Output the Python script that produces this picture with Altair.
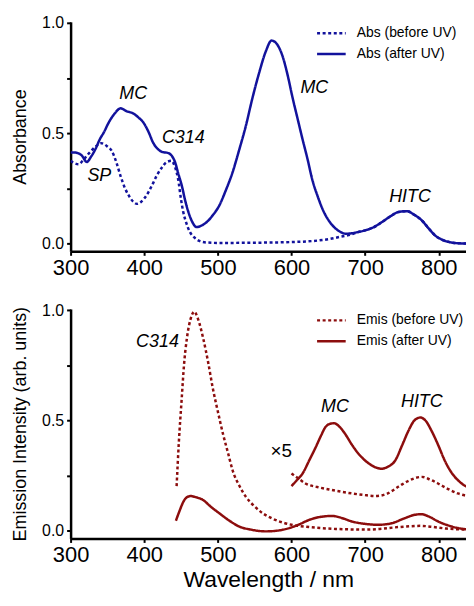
import altair as alt
import pandas as pd

BLUE = "#12129c"
RED = "#8c0d0d"
FONT = "Liberation Sans"

# ---------- Absorbance (top panel) ----------
abs_after_nm = [300, 305, 310, 315, 322, 328, 334, 340, 345, 352, 360, 368, 376, 385, 392, 399,
                406, 412, 418, 424, 433, 438, 442, 446, 451, 456, 460, 465, 471, 478, 485, 493,
                502, 511, 520, 529, 538, 547, 556, 565, 573, 580, 588, 595, 601, 608, 615, 622,
                628, 636, 644, 652, 660, 667, 673, 680, 690, 700, 712, 723, 735, 745, 757, 766,
                777, 786, 795, 805, 817, 830, 845]
abs_after_val = [0.413, 0.413, 0.41, 0.40, 0.37, 0.395, 0.43, 0.475, 0.503, 0.55, 0.59, 0.613,
                 0.60, 0.59, 0.572, 0.548, 0.505, 0.458, 0.43, 0.416, 0.41, 0.395, 0.368, 0.32,
                 0.263, 0.19, 0.143, 0.10, 0.075, 0.082, 0.098, 0.128, 0.173, 0.243, 0.323, 0.425,
                 0.533, 0.66, 0.773, 0.87, 0.92, 0.905, 0.848, 0.76, 0.668, 0.57, 0.473, 0.38,
                 0.293, 0.21, 0.143, 0.098, 0.068, 0.052, 0.045, 0.046, 0.052, 0.06, 0.075, 0.098,
                 0.125, 0.143, 0.147, 0.132, 0.105, 0.07, 0.037, 0.017, 0.005, 0.001, 0.0]

abs_before_nm = [300, 305, 311, 317, 322, 328, 334, 342, 350, 356, 362, 368, 374, 379, 385, 390,
                 396, 403, 410, 417, 424, 430, 437, 442, 446, 450, 453, 457, 462, 468, 475, 485,
                 500, 550, 600, 630, 650, 665, 680, 690, 700, 712, 723, 735, 745, 757, 766, 777,
                 786, 795, 805, 817, 830, 845]
abs_before_val = [0.375, 0.365, 0.36, 0.378, 0.398, 0.42, 0.44, 0.455, 0.44, 0.42, 0.37, 0.305,
                  0.25, 0.218, 0.19, 0.18, 0.19, 0.218, 0.26, 0.308, 0.345, 0.368, 0.375, 0.345,
                  0.293, 0.2, 0.143, 0.095, 0.053, 0.028, 0.012, 0.005, 0.003, 0.004, 0.007, 0.012,
                  0.02, 0.03, 0.04, 0.052, 0.06, 0.075, 0.098, 0.125, 0.143, 0.147, 0.132, 0.105,
                  0.07, 0.037, 0.017, 0.005, 0.001, 0.0]

abs_labels = ["MC", "SP", "C314", "MC", "HITC"]
abs_label_nm = [385, 339, 453, 631, 761]
abs_label_y = [0.676, 0.306, 0.477, 0.707, 0.212]

# ---------- Emission (bottom panel) ----------
emis_before_nm = [444, 447, 451, 454, 458, 463, 468, 473, 480, 487, 493, 500, 507, 514, 520, 529,
                  538, 550, 561, 574, 588, 600, 620, 640, 660, 680, 700, 720, 740, 760, 776, 790,
                  810, 830, 845]
emis_before_val = [0.202, 0.40, 0.603, 0.75, 0.873, 0.96, 0.993, 0.96, 0.873, 0.76, 0.648, 0.54,
                   0.438, 0.35, 0.274, 0.205, 0.154, 0.11, 0.079, 0.055, 0.037, 0.027, 0.018,
                   0.012, 0.008, 0.006, 0.005, 0.008, 0.015, 0.02, 0.022, 0.018, 0.01, 0.006, 0.005]

emis_after_nm = [443, 448, 453, 458, 463, 470, 480, 490, 502, 515, 529, 545, 565, 580, 597, 610,
                 624, 640, 655, 668, 682, 700, 718, 735, 754, 766, 776, 788, 799, 812, 826, 845]
emis_after_val = [0.045, 0.09, 0.13, 0.152, 0.157, 0.152, 0.139, 0.11, 0.079, 0.047, 0.019, 0.005,
                  -0.003, 0.0, 0.012, 0.028, 0.049, 0.063, 0.067, 0.058, 0.042, 0.031, 0.027,
                  0.033, 0.057, 0.071, 0.075, 0.062, 0.042, 0.025, 0.012, 0.005]

emis_after_x5_nm = [600, 607, 615, 624, 633, 640, 646, 652, 658, 665, 673, 682, 691, 700, 709, 716,
                    722, 731, 741, 750, 759, 767, 775, 783, 790, 799, 808, 817, 826, 835, 845]
emis_after_x5_val = [0.202, 0.228, 0.259, 0.318, 0.379, 0.43, 0.469, 0.484, 0.487, 0.472, 0.438,
                     0.39, 0.349, 0.318, 0.296, 0.285, 0.281, 0.29, 0.319, 0.385, 0.454, 0.5,
                     0.513, 0.495, 0.454, 0.39, 0.319, 0.265, 0.229, 0.205, 0.191]

emis_before_x5_nm = [600, 610, 619, 635, 651, 667, 682, 698, 714, 730, 745, 760, 777, 788, 799,
                     812, 826, 845]
emis_before_x5_val = [0.259, 0.235, 0.214, 0.198, 0.187, 0.177, 0.169, 0.162, 0.157, 0.168, 0.199,
                      0.228, 0.244, 0.232, 0.214, 0.19, 0.169, 0.154]

emis_labels = ["C314", "MC", "HITC"]
emis_label_nm = [418, 659, 777]
emis_label_y = [0.854, 0.562, 0.581]
x5_label = ["×5"]
x5_label_nm = [586]
x5_label_y = [0.359]

ABS_SERIES = ["Abs (before UV)", "Abs (after UV)"]
EMIS_SERIES = ["Emis (before UV)", "Emis (after UV)"]


def frame(nm, val, series, seg):
    return pd.DataFrame({"nm": nm, "v": val, "series": series, "seg": seg})


abs_df = pd.concat([
    frame(abs_before_nm, abs_before_val, ABS_SERIES[0], "b"),
    frame(abs_after_nm, abs_after_val, ABS_SERIES[1], "a"),
])
emis_df = pd.concat([
    frame(emis_before_nm, emis_before_val, EMIS_SERIES[0], "b"),
    frame(emis_after_nm, emis_after_val, EMIS_SERIES[1], "a"),
    frame(emis_before_x5_nm, emis_before_x5_val, EMIS_SERIES[0], "b5"),
    frame(emis_after_x5_nm, emis_after_x5_val, EMIS_SERIES[1], "a5"),
])
abs_lab = pd.DataFrame({"nm": abs_label_nm, "v": abs_label_y, "t": abs_labels})
emis_lab = pd.DataFrame({"nm": emis_label_nm, "v": emis_label_y, "t": emis_labels})
x5_lab = pd.DataFrame({"nm": x5_label_nm, "v": x5_label_y, "t": x5_label})

W, H = 398, 231
x_scale = alt.Scale(domain=[300, 837], nice=False, zero=False)
y_scale = alt.Scale(domain=[-0.035, 1.005], nice=False, zero=False)

x_ticks = [300, 350, 400, 450, 500, 550, 600, 650, 700, 750, 800]
y_ticks = [0, 0.25, 0.5, 0.75, 1.0]


def x_axis(title):
    kw = dict(values=x_ticks, labelExpr="datum.value % 100 == 0 ? datum.label : ''",
              labelFontSize=22, labelPadding=2, tickSize=4, format="d", labelFlush=False)
    if title:
        kw.update(title=title, titleFontSize=23, titlePadding=3)
    else:
        kw.update(title=None)
    return alt.Axis(**kw)


def y_axis(title):
    return alt.Axis(values=y_ticks, title=title, format=".1f",
                    labelExpr="datum.value == 0.25 || datum.value == 0.75 ? '' : datum.label",
                    labelFontSize=16, labelPadding=3, tickSize=4, titleFontSize=18,
                    titlePadding=12, labelFlush=False)


def legend(color):
    return alt.Legend(orient="none", legendX=255, legendY=4, title=None,
                      symbolType="M-2.4,0H2.4", symbolSize=144, symbolStrokeWidth=2.5,
                      symbolStrokeColor=color, labelFont=FONT, labelFontSize=14,
                      labelOffset=18, rowPadding=6, padding=0)


def panel(df, labs, series, color, ytitle, xtitle, extra=None):
    lines = alt.Chart(df).mark_line(color=color, strokeWidth=2.5, clip=True,
                                    interpolate="monotone").encode(
        x=alt.X("nm:Q", scale=x_scale, axis=x_axis(xtitle)),
        y=alt.Y("v:Q", scale=y_scale, axis=y_axis(ytitle)),
        strokeDash=alt.StrokeDash("series:N",
                                  scale=alt.Scale(domain=series, range=[[3, 2.6], [1, 0]]),
                                  legend=legend(color)),
        detail="seg:N",
    )
    text = alt.Chart(labs).mark_text(font=FONT, fontSize=18, fontStyle="italic",
                                     color="black").encode(
        x="nm:Q", y="v:Q", text="t:N")
    layers = [lines, text]
    if extra is not None:
        layers.append(alt.Chart(extra).mark_text(font=FONT, fontSize=19, color="black").encode(
            x="nm:Q", y="v:Q", text="t:N"))
    return alt.layer(*layers).properties(width=W, height=H)


top = panel(abs_df, abs_lab, ABS_SERIES, BLUE, "Absorbance", None)
bottom = panel(emis_df, emis_lab, EMIS_SERIES, RED, "Emission Intensity (arb. units)",
               "Wavelength / nm", extra=x5_lab)

chart = alt.vconcat(top, bottom, spacing=24).resolve_scale(strokeDash="independent").properties(
    padding={"left": 3, "top": 5, "right": 0, "bottom": 0}
).configure_axis(
    domainColor="black", domainWidth=2.5, tickColor="black", tickWidth=2, grid=False,
    labelFont=FONT, titleFont=FONT, titleFontWeight="normal", labelColor="black",
    titleColor="black"
).configure_view(stroke=None).configure_legend(labelColor="black")

chart.save("out.html", embed_options={"renderer": "svg", "actions": False})
